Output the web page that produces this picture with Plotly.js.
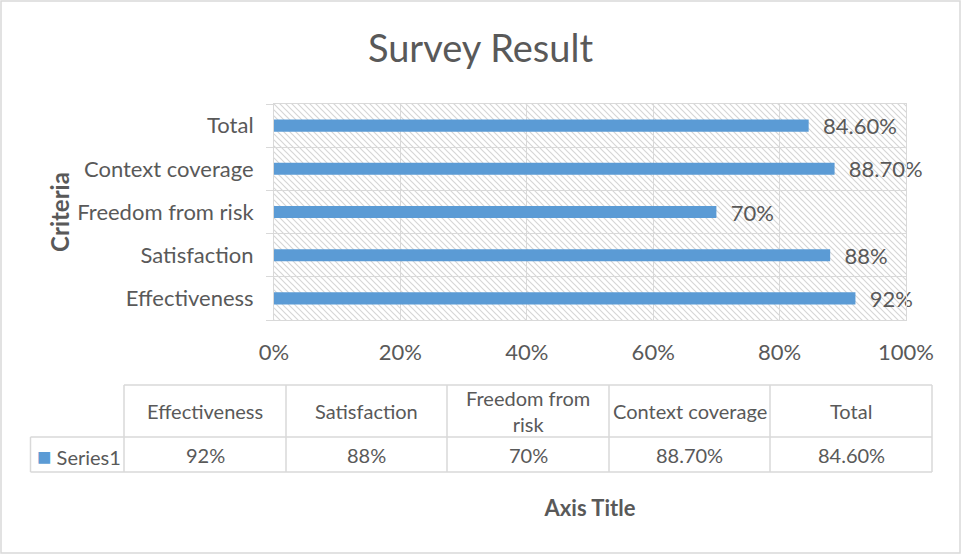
<!DOCTYPE html>
<html>
<head>
<meta charset="utf-8">
<script src="https://cdn.plot.ly/plotly-3.0.1.min.js"></script>
<style>html,body{margin:0;padding:0;background:#fff;}#chart{width:961px;height:554px;}</style>
</head>
<body>
<div id="chart"></div>
<script>
const categories = ["Effectiveness", "Satisfaction", "Freedom from risk", "Context coverage", "Total"];
const values = [0.92, 0.88, 0.70, 0.887, 0.846];
const valueLabels = ["92%", "88%", "70%", "88.70%", "84.60%"];
const tableHeaders = ["Effectiveness", "Satisfaction", "Freedom from<br>risk", "Context coverage", "Total"];
const seriesName = "Series1";
const xTickVals = [0, 0.2, 0.4, 0.6, 0.8, 1.0];
const xTickText = ["0%", "20%", "40%", "60%", "80%", "100%"];

const W = 961, H = 554;
const FONT = "Lato, 'Open Sans', sans-serif";
const GRAY = "#595959";
const BAR = "#5b9bd5";
const GRID = "#d9d9d9";

const px = v => v / W;          // pixel -> paper x
const py = v => 1 - v / H;      // pixel -> paper y

const hatch = "data:image/svg+xml;base64," + btoa(
  '<svg xmlns="http://www.w3.org/2000/svg" width="632" height="216">' +
  '<defs><pattern id="p" width="6" height="6" patternUnits="userSpaceOnUse">' +
  '<path d="M-1,-1 L7,7 M-1,5 L1,7 M5,-1 L7,1" stroke="#d6d6d6" stroke-width="1.2"/>' +
  '</pattern></defs><rect width="632" height="216" fill="url(#p)"/></svg>');

const xd = [px(274), px(906)];
const yd = [py(320), py(104)];

const bar = {
  type: "bar",
  orientation: "h",
  y: categories,
  x: values,
  text: valueLabels,
  texttemplate: "  %{text}",
  textposition: "outside",
  constraintext: "none",
  cliponaxis: false,
  width: 0.28,
  marker: { color: BAR },
  textfont: { family: FONT, size: 22, color: GRAY },
  hoverinfo: "skip",
  name: seriesName
};

// ---- data table (Excel style) built from the arrays above ----
const colEdges = [124, 286, 447, 609, 770, 932];   // column boundaries (px)
const legendLeft = 30.5;
const rowTop = 385, rowMid = 437, rowBot = 472;
const tableFont = { family: FONT, size: 20, color: GRAY };

const shapes = [];
const annotations = [];
const line = { color: GRID, width: 1.5 };
shapes.push({ type: "line", xref: "paper", yref: "paper", x0: px(colEdges[0]), x1: px(colEdges[5]), y0: py(rowTop), y1: py(rowTop), line });
shapes.push({ type: "line", xref: "paper", yref: "paper", x0: px(legendLeft), x1: px(colEdges[5]), y0: py(rowMid), y1: py(rowMid), line });
shapes.push({ type: "line", xref: "paper", yref: "paper", x0: px(legendLeft), x1: px(colEdges[5]), y0: py(rowBot), y1: py(rowBot), line });
shapes.push({ type: "line", xref: "paper", yref: "paper", x0: px(legendLeft), x1: px(legendLeft), y0: py(rowMid), y1: py(rowBot), line });
colEdges.forEach(e => shapes.push({ type: "line", xref: "paper", yref: "paper", x0: px(e), x1: px(e), y0: py(rowTop), y1: py(rowBot), line }));

categories.forEach((c, i) => {
  const xc = px((colEdges[i] + colEdges[i + 1]) / 2);
  annotations.push({ xref: "paper", yref: "paper", x: xc, y: py((rowTop + rowMid) / 2), text: tableHeaders[i],
    showarrow: false, xanchor: "center", yanchor: "middle", align: "center", font: tableFont });
  annotations.push({ xref: "paper", yref: "paper", x: xc, y: py((rowMid + rowBot) / 2 + 0.5), text: valueLabels[i],
    showarrow: false, xanchor: "center", yanchor: "middle", font: tableFont });
});
annotations.push({ xref: "paper", yref: "paper", x: px(35), y: py((rowMid + rowBot) / 2 + 0.5),
  text: "<span style='color:" + BAR + ";font-size:24px'>■</span> " + seriesName, showarrow: false,
  xanchor: "left", yanchor: "middle", font: tableFont });

// outer chart border
shapes.push({ type: "rect", xref: "paper", yref: "paper", x0: px(1), x1: px(960), y0: py(553), y1: py(1),
  line: { color: GRID, width: 1.5 }, fillcolor: "rgba(0,0,0,0)", layer: "below" });

const layout = {
  width: W, height: H,
  margin: { l: 0, r: 0, t: 0, b: 0 },
  paper_bgcolor: "#ffffff",
  plot_bgcolor: "rgba(0,0,0,0)",
  showlegend: false,
  title: {
    text: "Survey Result",
    font: { family: FONT, size: 38, color: GRAY },
    x: 0.5, xanchor: "center",
    y: py(49), yanchor: "middle", yref: "container"
  },
  xaxis: {
    domain: xd,
    range: [0, 1],
    tickvals: xTickVals,
    ticktext: xTickText,
    showgrid: true,
    gridcolor: GRID,
    gridwidth: 1,
    zeroline: false,
    showline: true,
    mirror: true,
    linecolor: GRID,
    linewidth: 1,
    ticks: "outside",
    ticklen: 13,
    tickcolor: "rgba(0,0,0,0)",
    tickfont: { family: FONT, size: 22, color: GRAY },
    fixedrange: true,
    title: {
      text: "<b>Axis Title</b>",
      font: { family: FONT, size: 22, color: GRAY },
      standoff: 136
    }
  },
  yaxis: {
    domain: yd,
    type: "category",
    showgrid: true,
    gridcolor: GRID,
    gridwidth: 1,
    showline: true,
    mirror: true,
    linecolor: GRID,
    linewidth: 1,
    ticks: "outside",
    tickson: "boundaries",
    ticklen: 7,
    tickcolor: GRID,
    ticklabelstandoff: 15,
    tickfont: { family: FONT, size: 22, color: GRAY },
    fixedrange: true,
    title: {
      text: "<b>Criteria</b>",
      font: { family: FONT, size: 24, color: GRAY },
      standoff: 0
    }
  },
  images: [{
    source: hatch,
    xref: "paper", yref: "paper",
    x: xd[0], y: yd[1],
    sizex: xd[1] - xd[0], sizey: yd[1] - yd[0],
    sizing: "stretch",
    xanchor: "left", yanchor: "top",
    layer: "below"
  }],
  shapes: shapes,
  annotations: annotations
};

Plotly.newPlot("chart", [bar], layout, { displayModeBar: false, staticPlot: true });
</script>
</body>
</html>
